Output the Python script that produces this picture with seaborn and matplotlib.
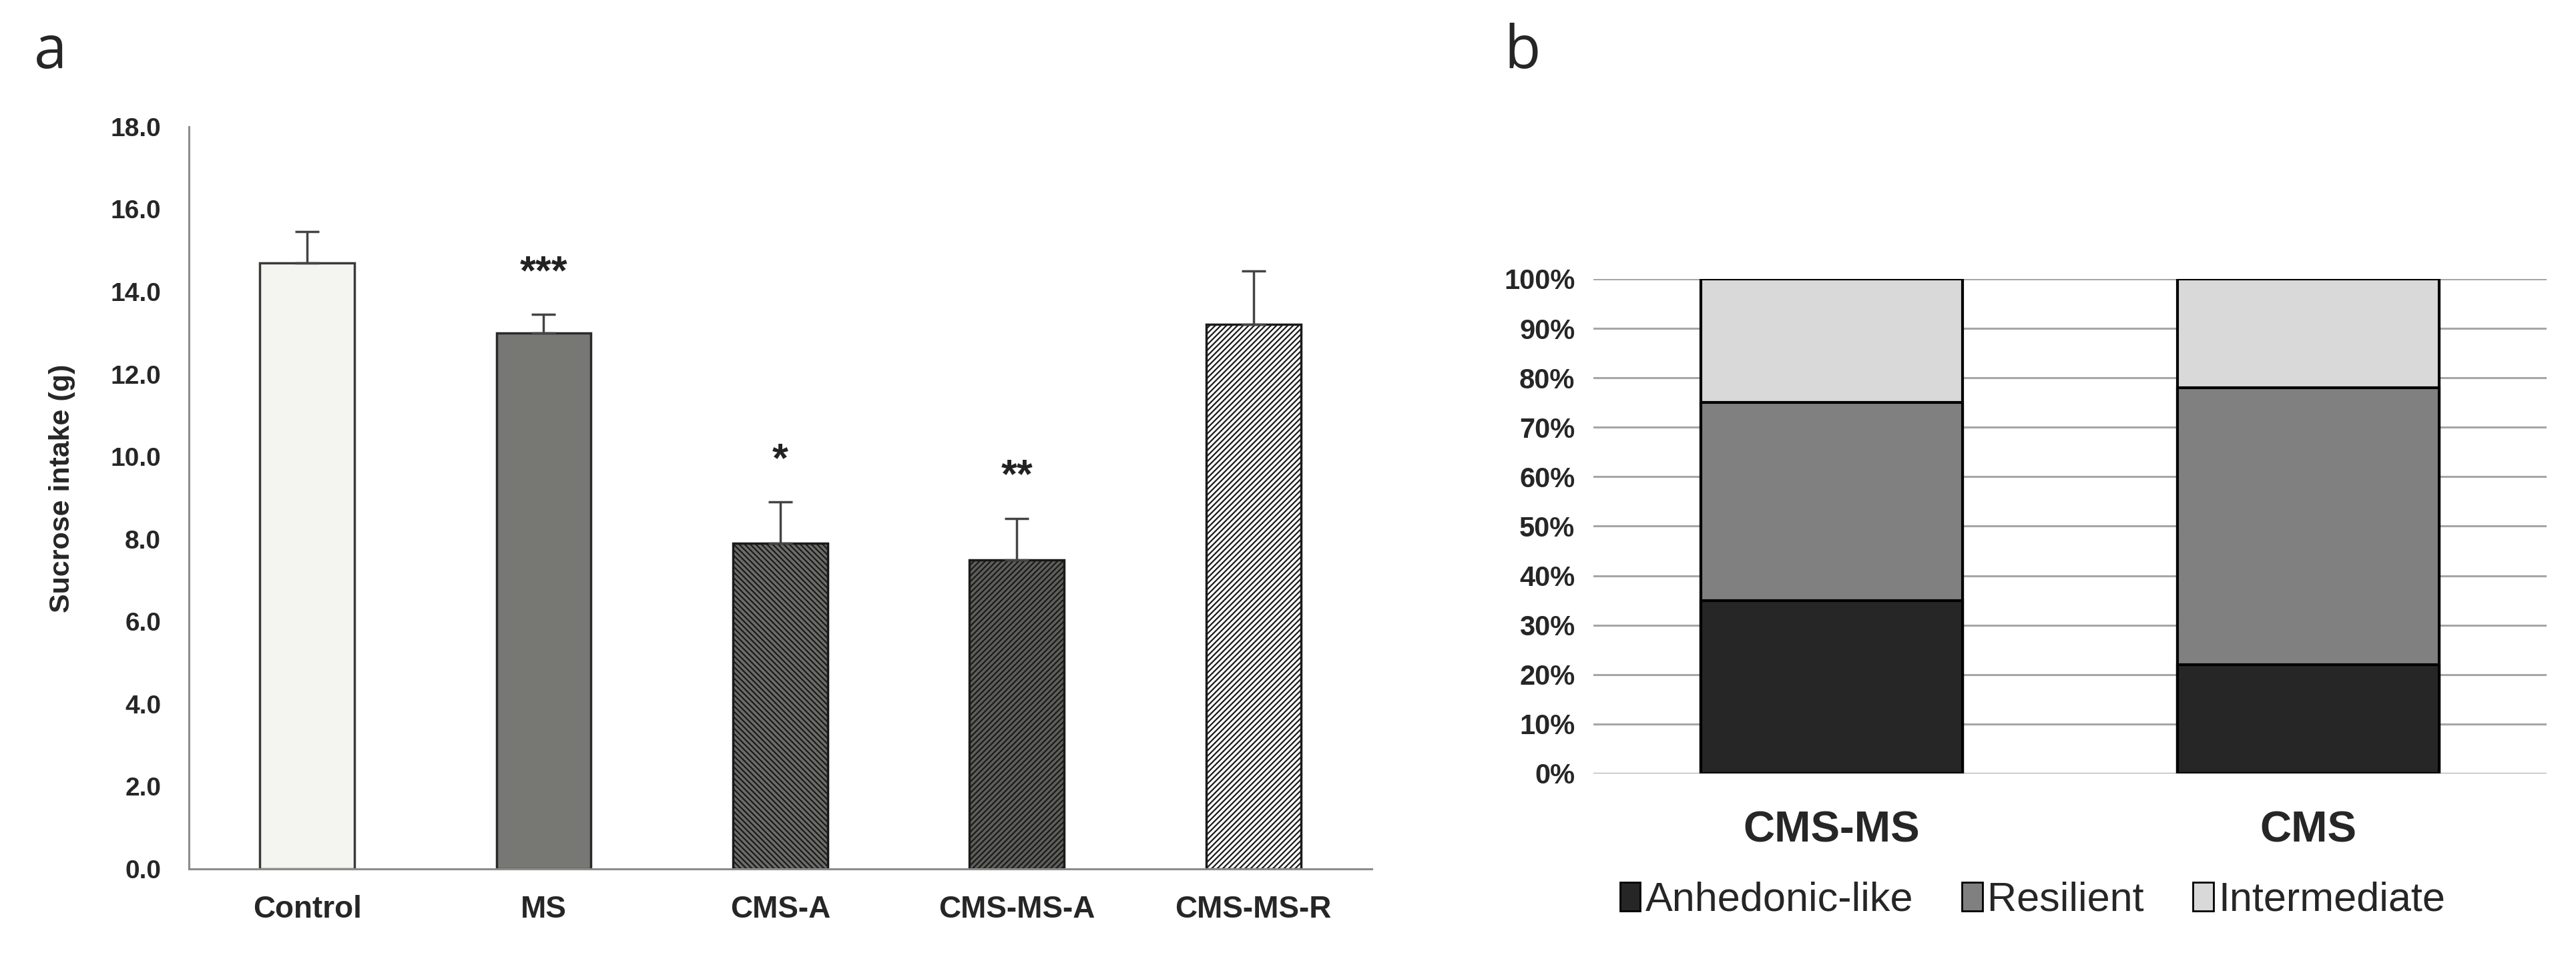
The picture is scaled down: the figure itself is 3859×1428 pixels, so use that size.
import numpy as np
import pandas as pd
import matplotlib
matplotlib.use('Agg')
import matplotlib.pyplot as plt
from matplotlib.patches import Patch
from matplotlib.ticker import FixedLocator
import seaborn as sns

# panel a: sucrose intake per group (mean + SEM)
groups = ['Control', 'MS', 'CMS-A', 'CMS-MS-A', 'CMS-MS-R']
intake = [14.7, 13.0, 7.9, 7.5, 13.2]
sem = [0.75, 0.45, 1.0, 1.0, 1.3]
stars = ['', '***', '*', '**', '']

# panel b: phenotype distribution (%)
cohorts = ['CMS-MS', 'CMS']
anhedonic = [35, 22]
resilient = [40, 56]
intermediate = [25, 22]
phenotypes = ['Anhedonic-like', 'Resilient', 'Intermediate']

sns.set_style('white')
plt.rcParams['font.family'] = ['Liberation Sans', 'DejaVu Sans']
plt.rcParams['hatch.linewidth'] = 1.6

fig = plt.figure(figsize=(38.59, 14.28), dpi=100)

# ---------------- panel a ----------------
ax = fig.add_axes([0.0733, 0.0882, 0.4592, 0.7788])
bar_colors = ['#f4f4f1', '#777773', '#6c6c69', '#5e5e5b', '#ffffff']
hatches = ['', '', '\\\\\\\\', '////', '////']
edge_colors = ['#3a3a3a', '#2a2a2a', '#1a1a1a', '#1a1a1a', '#1a1a1a']

df_a = pd.DataFrame({'group': groups, 'intake': intake})
sns.barplot(data=df_a, x='group', y='intake', hue='group', palette=bar_colors,
            legend=False, width=0.4, ax=ax, errorbar=None)
for patch, h, ec in zip(ax.patches, hatches, edge_colors):
    patch.set_hatch(h)
    patch.set_edgecolor(ec)
    patch.set_linewidth(2.5)

xpos = np.arange(len(groups))
ax.errorbar(xpos, intake, yerr=[np.zeros(len(sem)), sem], fmt='none',
            ecolor='#444444', elinewidth=2.5, capsize=13, capthick=2.5, zorder=1)

for x, v, e, s in zip(xpos, intake, sem, stars):
    if s:
        ax.text(x, v + e + 1.0, s, ha='center', va='center', fontsize=44,
                fontweight='bold', color='#222222')

ax.set_xlim(-0.5, len(groups) - 0.5)
ax.set_ylim(0, 18)
ax.set_yticks(np.arange(0, 18.1, 2))
ax.set_yticklabels(['%.1f' % t for t in np.arange(0, 18.1, 2)])
ax.set_xlabel('')
ax.set_ylabel('Sucrose intake (g)', fontsize=31, fontweight='bold')
ax.yaxis.set_label_coords(-0.096, 0.513)

for side in ['top', 'right']:
    ax.spines[side].set_visible(False)
for side in ['left', 'bottom']:
    ax.spines[side].set_color('#8c8c8c')
    ax.spines[side].set_linewidth(2.2)

ax.tick_params(axis='y', direction='out', length=12, width=2, color='#8c8c8c',
               pad=18, labelsize=28)
ax.tick_params(axis='x', which='major', length=0, pad=28, labelsize=33)
ax.xaxis.set_minor_locator(FixedLocator(np.arange(-0.5, len(groups), 1.0)))
ax.tick_params(axis='x', which='minor', direction='out', length=12, width=2,
               color='#8c8c8c')
for lab in ax.get_xticklabels() + ax.get_yticklabels():
    lab.set_fontweight('bold')

# ---------------- panel b ----------------
bx = fig.add_axes([0.6186, 0.1884, 0.370, 0.5189])
seg_colors = ['#262626', '#808080', '#d9d9d9']
cum_top = np.array(anhedonic) + np.array(resilient) + np.array(intermediate)
cum_mid = np.array(anhedonic) + np.array(resilient)
cum_low = np.array(anhedonic)

for heights, col in zip([cum_top, cum_mid, cum_low], seg_colors[::-1]):
    df_b = pd.DataFrame({'cohort': cohorts, 'pct': heights})
    sns.barplot(data=df_b, x='cohort', y='pct', color=col, width=0.55,
                edgecolor='black', linewidth=3, ax=bx, errorbar=None, zorder=3)

bx.set_xlim(-0.5, len(cohorts) - 0.5)
bx.set_ylim(0, 100)
bx.set_yticks(np.arange(0, 101, 10))
bx.set_yticklabels(['%d%%' % t for t in np.arange(0, 101, 10)])
bx.set_xlabel('')
bx.set_ylabel('')
bx.yaxis.grid(True, color='#a6a6a6', linewidth=2.2, zorder=0)
bx.set_axisbelow(True)
for side in bx.spines:
    bx.spines[side].set_visible(False)
bx.tick_params(axis='y', length=0, pad=20, labelsize=30)
bx.tick_params(axis='x', length=0, pad=40, labelsize=47)
for lab in bx.get_xticklabels() + bx.get_yticklabels():
    lab.set_fontweight('bold')

handles = [Patch(facecolor=c, edgecolor='black', linewidth=2) for c in seg_colors]
fig.legend(handles, phenotypes, loc='center', bbox_to_anchor=(0.789, 0.055),
           ncol=3, frameon=False, fontsize=44, handlelength=0.5,
           handleheight=0.7, handletextpad=0.12, columnspacing=1.2)

# panel letters
fig.text(0.0197, 0.945, 'a', fontsize=64, family='Open Sans', va='center', ha='center')
fig.text(0.591, 0.945, 'b', fontsize=64, family='Open Sans', va='center', ha='center')

fig.savefig('out.png', dpi=100, facecolor='white')
